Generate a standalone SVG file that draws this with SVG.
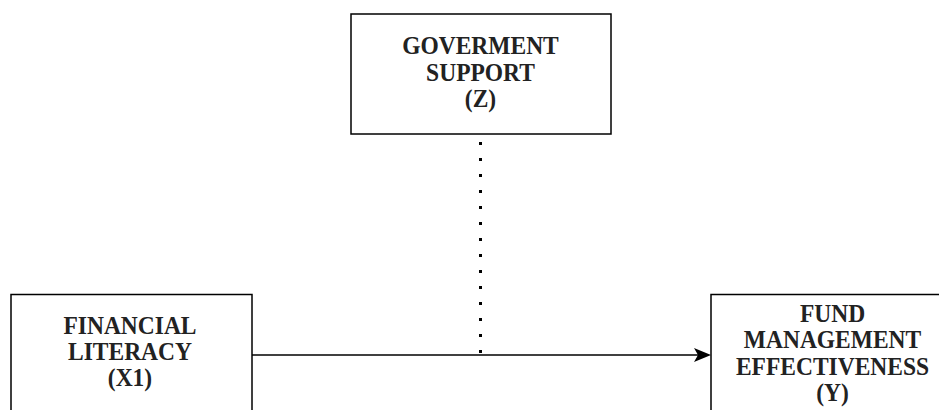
<svg xmlns="http://www.w3.org/2000/svg" width="939" height="410" viewBox="0 0 939 410">
<style>
.box{fill:#fff;stroke:#000;stroke-width:1.5}
.lbl{font-family:"Liberation Serif","Times New Roman",serif;font-weight:bold;font-size:23.5px;fill:#222;text-anchor:middle}
.con{stroke:#000;stroke-width:1.5;fill:none}
</style>
<rect width="939" height="410" fill="#fff"/>
<g id="node-z">
<rect class="box" x="351" y="14" width="260" height="120"/>
<text class="lbl" transform="translate(480.5,54.3) scale(1,1.08)">GOVERMENT</text>
<text class="lbl" transform="translate(480.5,80.5) scale(1,1.08)">SUPPORT</text>
<text class="lbl" transform="translate(480.5,106.5) scale(1,1.08)">(Z)</text>
</g>
<g id="node-x1">
<rect class="box" x="11" y="294.5" width="241" height="130"/>
<text class="lbl" transform="translate(130,334.3) scale(1,1.08)">FINANCIAL</text>
<text class="lbl" transform="translate(130,360.3) scale(1,1.08)">LITERACY</text>
<text class="lbl" transform="translate(130,386.3) scale(1,1.08)">(X1)</text>
</g>
<g id="node-y">
<rect class="box" x="711" y="294.5" width="243" height="130"/>
<text class="lbl" transform="translate(832.5,321.7) scale(1,1.08)">FUND</text>
<text class="lbl" transform="translate(832.5,348.3) scale(1,1.08)">MANAGEMENT</text>
<text class="lbl" transform="translate(832.5,375) scale(1,1.08)">EFFECTIVENESS</text>
<text class="lbl" transform="translate(832.5,401) scale(1,1.08)">(Y)</text>
</g>
<g id="connectors">
<line class="con" x1="252" y1="355" x2="700" y2="355"/>
<polygon points="711,355 694,348 698,355 694,362" fill="#000"/>
<line x1="480.5" y1="142" x2="480.5" y2="355" stroke="#000" stroke-width="3" stroke-dasharray="3 13"/>
</g>
</svg>
